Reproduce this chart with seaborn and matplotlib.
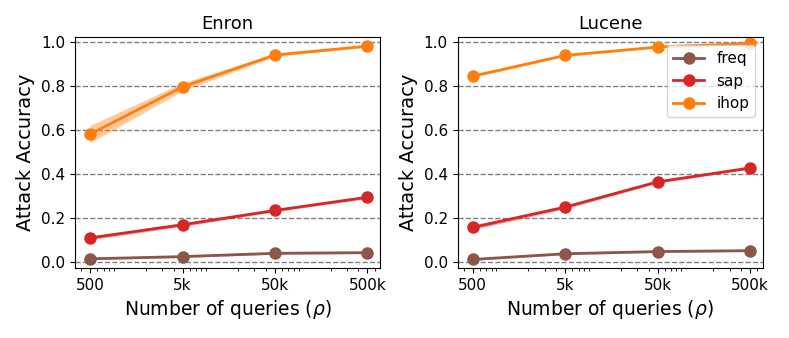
import numpy as np
import pandas as pd
import matplotlib
matplotlib.use("Agg")
import matplotlib.pyplot as plt
import seaborn as sns
from matplotlib.ticker import FixedLocator, FixedFormatter, LogLocator, NullFormatter

# number of queries
queries = [500, 5000, 50000, 500000]
query_labels = ["500", "5k", "50k", "500k"]
attacks = ["freq", "sap", "ihop"]
colors = {"freq": "#8c564b", "sap": "#d62728", "ihop": "#ff7f0e"}

# mean accuracy and spread
enron_mean = {
    "freq": [0.015, 0.025, 0.040, 0.043],
    "sap": [0.110, 0.170, 0.235, 0.295],
    "ihop": [0.582, 0.797, 0.942, 0.982],
}
enron_std = {
    "freq": [0.004, 0.004, 0.004, 0.004],
    "sap": [0.008, 0.008, 0.006, 0.006],
    "ihop": [0.040, 0.018, 0.007, 0.004],
}
lucene_mean = {
    "freq": [0.012, 0.038, 0.048, 0.052],
    "sap": [0.158, 0.250, 0.365, 0.428],
    "ihop": [0.846, 0.940, 0.978, 0.995],
}
lucene_std = {
    "freq": [0.004, 0.004, 0.004, 0.004],
    "sap": [0.010, 0.008, 0.006, 0.005],
    "ihop": [0.006, 0.004, 0.003, 0.003],
}

fig = plt.figure(figsize=(7.89, 3.38), dpi=100)
ax1 = fig.add_axes([0.095, 0.207, 0.387, 0.683])
ax2 = fig.add_axes([0.580, 0.207, 0.387, 0.683])


def draw(ax, means, stds, title, legend):
    for a in attacks:
        df = pd.DataFrame({"queries": queries, "acc": means[a]})
        sns.lineplot(data=df, x="queries", y="acc", ax=ax, color=colors[a],
                     marker="o", markersize=9, markeredgewidth=0, linewidth=2,
                     label=a if legend else None)
        lo = np.array(means[a]) - np.array(stds[a])
        hi = np.array(means[a]) + np.array(stds[a])
        ax.fill_between(queries, lo, hi, color=colors[a], alpha=0.4, linewidth=0)
    ax.set_xscale("log")
    ax.set_xlim(343, 690000)
    ax.set_ylim(-0.027, 1.023)
    ax.xaxis.set_major_locator(FixedLocator(queries))
    ax.xaxis.set_major_formatter(FixedFormatter(query_labels))
    ax.xaxis.set_minor_locator(LogLocator(base=10, subs=np.arange(2, 10)))
    ax.xaxis.set_minor_formatter(NullFormatter())
    ax.set_yticks([0.0, 0.2, 0.4, 0.6, 0.8, 1.0])
    ax.yaxis.grid(True, linestyle="--", color="gray", linewidth=1)
    ax.set_axisbelow(True)
    ax.tick_params(labelsize=11)
    ax.set_xlabel(r"Number of queries ($\rho$)", fontsize=13.5)
    ax.set_ylabel("Attack Accuracy", fontsize=14)
    ax.set_title(title, fontsize=13)
    if legend:
        ax.legend(loc="upper right", fontsize=11)


draw(ax1, enron_mean, enron_std, "Enron", False)
draw(ax2, lucene_mean, lucene_std, "Lucene", True)

fig.savefig("out.png", dpi=100)
